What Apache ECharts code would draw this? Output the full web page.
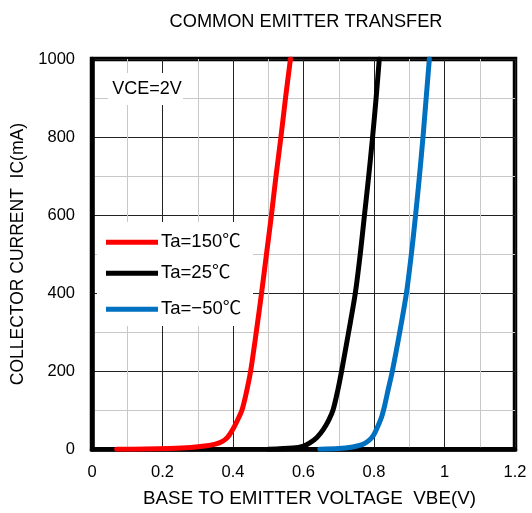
<!DOCTYPE html>
<html>
<head>
<meta charset="utf-8">
<script src="https://cdn.jsdelivr.net/npm/echarts@6/dist/echarts.min.js"></script>
<style>
  html, body { margin: 0; padding: 0; background: #fff; }
  #chart { width: 532px; height: 513px; }
</style>
</head>
<body>
<div id="chart"></div>
<script>
// Collector current IC (mA) versus base-emitter voltage VBE (V), VCE = 2 V
const xTicks = [0, 0.2, 0.4, 0.6, 0.8, 1, 1.2];
const yTicks = [0, 200, 400, 600, 800, 1000];

const seriesNames = ['Ta=150℃', 'Ta=25℃', 'Ta=−50℃'];
const seriesColors = ['#ff0000', '#000000', '#0070c0'];

// [VBE, IC] pairs
const ta150 = [
  [0.07, 0], [0.15, 0.5], [0.22, 2], [0.28, 4.5], [0.32, 8], [0.35, 13],
  [0.37, 20], [0.385, 31], [0.40, 52], [0.413, 75], [0.426, 102],
  [0.439, 150], [0.450, 200], [0.466, 300], [0.481, 400], [0.495, 500],
  [0.509, 600], [0.522, 700], [0.536, 800], [0.549, 900], [0.563, 1000]
];
const ta25 = [
  [0.50, 0], [0.57, 3], [0.60, 8], [0.618, 16], [0.638, 30], [0.656, 50],
  [0.672, 75], [0.684, 101], [0.697, 150], [0.708, 200], [0.728, 300],
  [0.747, 400], [0.761, 500], [0.773, 600], [0.785, 700], [0.796, 800],
  [0.806, 900], [0.815, 1000]
];
const taM50 = [
  [0.646, 0], [0.70, 2], [0.735, 5], [0.755, 9], [0.769, 13], [0.785, 22],
  [0.798, 35], [0.81, 57], [0.822, 84], [0.831, 115], [0.840, 152],
  [0.852, 200], [0.873, 300], [0.892, 400], [0.906, 500], [0.918, 600],
  [0.929, 700], [0.939, 800], [0.948, 900], [0.957, 1000]
];
const curves = [ta150, ta25, taM50];

const FONT = '"Liberation Sans", Arial, "Noto Sans CJK JP", sans-serif';
const legendTops = [233, 264, 300];

const chart = echarts.init(document.getElementById('chart'));

chart.setOption({
  animation: false,
  backgroundColor: '#fff',
  textStyle: { fontFamily: FONT, color: '#000' },
  title: {
    text: 'COMMON EMITTER TRANSFER',
    left: 301, top: 8, textAlign: 'center',
    textStyle: { fontFamily: FONT, fontSize: 18.2, fontWeight: 'normal', color: '#000' }
  },
  grid: {
    left: 92, right: 17, top: 59, bottom: 60,
    show: true, borderColor: '#000', borderWidth: 4.5, backgroundColor: 'transparent'
  },
  xAxis: {
    type: 'value', min: 0, max: 1.2, interval: 0.2,
    name: 'BASE TO EMITTER VOLTAGE  VBE(V)',
    nameLocation: 'middle', nameGap: 40,
    nameTextStyle: { fontFamily: FONT, fontSize: 18.8, color: '#000', padding: [0, 0, 0, 12] },
    axisLine: { show: true, lineStyle: { color: '#000', width: 4.5 } },
    axisTick: { show: false },
    axisLabel: {
      fontFamily: FONT, fontSize: 16.5, color: '#000', margin: 15,
      formatter: v => xTicks.find(t => Math.abs(t - v) < 1e-9).toString()
    },
    splitLine: { show: true, lineStyle: { color: '#222', width: 1 } },
    minorTick: { show: false, splitNumber: 2 },
    minorSplitLine: { show: true, lineStyle: { color: '#c8c8c8', width: 1 } }
  },
  yAxis: {
    type: 'value', min: 0, max: 1000, interval: 200,
    name: 'COLLECTOR CURRENT  IC(mA)',
    nameLocation: 'middle', nameGap: 55, nameRotate: 90,
    nameTextStyle: { fontFamily: FONT, fontSize: 17.5, color: '#000' },
    axisLine: { show: true, lineStyle: { color: '#000', width: 4.5 } },
    axisTick: { show: false },
    axisLabel: {
      fontFamily: FONT, fontSize: 16.5, color: '#000', margin: 17,
      formatter: v => yTicks.find(t => t === v).toString()
    },
    splitLine: { show: true, lineStyle: { color: '#222', width: 1 } },
    minorTick: { show: false, splitNumber: 2 },
    minorSplitLine: { show: true, lineStyle: { color: '#c8c8c8', width: 1 } }
  },
  legend: seriesNames.map((name, i) => ({
    data: [name],
    left: 106, top: legendTops[i],
    icon: 'rect', itemWidth: 52, itemHeight: 5, itemGap: 0,
    padding: 0,
    textStyle: { fontFamily: FONT, fontSize: 18.5, color: '#000', padding: [0, 0, 0, -2] },
    z: 5
  })),
  graphic: [
    {
      type: 'rect', z: 1,
      shape: { x: 97, y: 222, width: 156, height: 104 },
      style: { fill: '#fff' }
    },
    {
      type: 'rect', z: 1,
      shape: { x: 108, y: 73, width: 75, height: 32 },
      style: { fill: '#fff' }
    },
    {
      type: 'text', z: 5,
      x: 147, y: 89,
      style: {
        text: 'VCE=2V', fontFamily: FONT, fontSize: 18, fill: '#000',
        align: 'center', verticalAlign: 'middle'
      }
    }
  ],
  series: curves.map((data, i) => ({
    name: seriesNames[i],
    type: 'line',
    data: data,
    showSymbol: false,
    symbol: 'none',
    smooth: 0.3,
    clip: true,
    color: seriesColors[i],
    lineStyle: { color: seriesColors[i], width: 5, cap: 'round', join: 'round' },
    z: 3
  }))
});
</script>
</body>
</html>
